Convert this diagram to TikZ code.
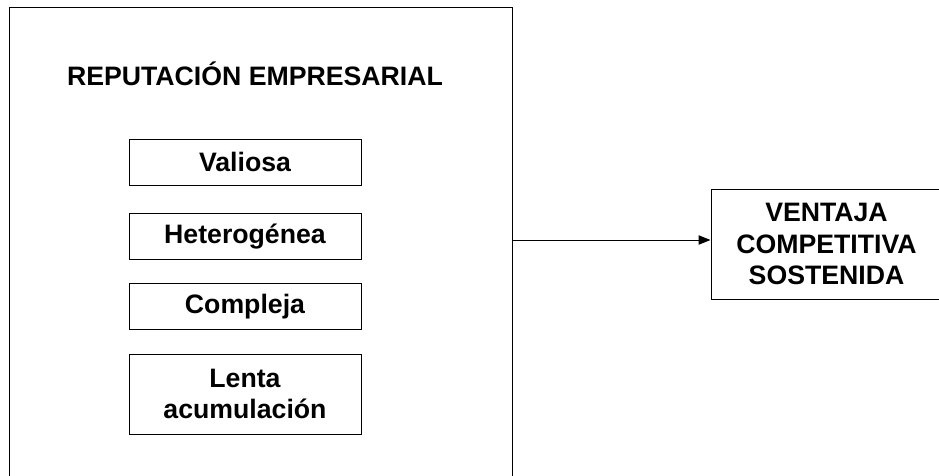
\documentclass[tikz,border=0pt]{standalone}
\usepackage{fontspec}
\setmainfont{Liberation Sans}
\usetikzlibrary{arrows.meta}

\tikzset{
  caja/.style={draw, line width=0.75pt, minimum width=174pt, minimum height=34.5pt, inner sep=0pt, align=center, font=\fontsize{20}{23.5}\selectfont\bfseries},
  marco/.style={draw, line width=0.75pt, inner sep=0pt},
}

\begin{document}
\begin{tikzpicture}[x=0.75pt,y=-0.75pt]
    \useasboundingbox (0,0) rectangle (939,475);
    \clip (0,0) rectangle (939,475);
    \node[marco, minimum width=377.25pt, minimum height=354.75pt] (rep) at (260.5,243.5) {};
    \node[font=\fontsize{20}{24}\selectfont\bfseries] (titulo) at (255,74) {REPUTACIÓN EMPRESARIAL};
    \node[caja] (valiosa) at (245,162) {Valiosa};
    \node[caja] (hetero) at (245,236.5) {Heterogénea};
    \node[caja] (compleja) at (245,306.5) {Compleja};
    \node[caja, minimum height=60pt] (lenta) at (245,394) {Lenta\\acumulación};
    \node[caja, minimum width=173.25pt, minimum height=82.5pt] (ventaja) at (826.5,244) {VENTAJA\\COMPETITIVA\\SOSTENIDA};
    \draw[line width=0.75pt, -{Triangle[length=9pt,width=7pt]}] (rep.east |- 0,240) -- (ventaja.west |- 0,240);
  \end{tikzpicture}
\end{document}
